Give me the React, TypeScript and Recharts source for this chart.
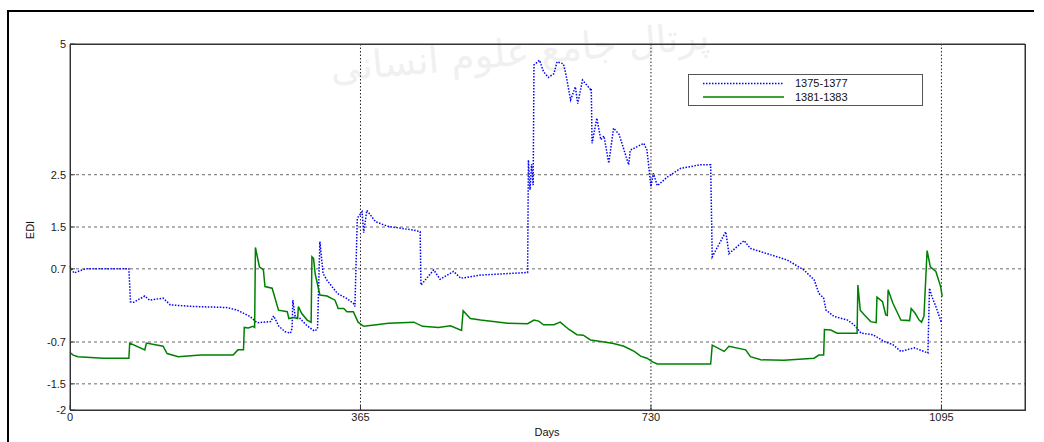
import React from 'react';
import { LineChart, Line, XAxis, YAxis, CartesianGrid } from 'recharts';

const xTicks = [0, 365, 730, 1095];
const yTicks = [-2, -1.5, -0.7, 0.7, 1.5, 2.5, 5];
const gridYTicks = [-1.5, -0.7, 0.7, 1.5, 2.5];
const seriesNames = ['1375-1377', '1381-1383'];

const blueDays = [0, 5, 12, 20, 74, 76, 80, 94, 100, 117, 126, 155, 197, 210, 226, 235, 252, 256, 262, 270, 277, 279, 280, 283, 289, 298, 307, 311, 314, 318, 323, 336, 348, 356, 358, 361, 367, 369, 373, 384, 400, 432, 440, 441, 457, 465, 482, 491, 516, 575, 576, 578, 580, 582, 583, 590, 595, 601, 608, 612, 620, 623, 629, 635, 638, 644, 654, 655, 656, 662, 667, 671, 677, 683, 690, 702, 704, 721, 725, 730, 733, 738, 751, 767, 792, 805, 807, 824, 828, 847, 855, 876, 901, 922, 935, 941, 947, 950, 960, 977, 985, 994, 1009, 1023, 1034, 1044, 1061, 1078, 1080, 1083, 1088, 1095];
const blueValues = [0.75, 0.62, 0.66, 0.7, 0.7, 0.07, 0.06, 0.18, 0.1, 0.14, 0.01, -0.02, -0.04, -0.09, -0.21, -0.33, -0.31, -0.2, -0.39, -0.5, -0.53, -0.44, 0.1, -0.21, -0.25, -0.39, -0.49, -0.45, 1.22, 0.61, 0.48, 0.23, 0.13, 0.04, -0.02, 1.67, 1.79, 1.39, 1.82, 1.6, 1.51, 1.44, 1.41, 0.39, 0.68, 0.5, 0.65, 0.52, 0.58, 0.63, 2.78, 2.21, 2.7, 2.3, 4.6, 4.69, 4.47, 4.36, 4.43, 4.66, 4.62, 4.43, 3.93, 4.18, 3.86, 4.31, 4.13, 4.15, 3.1, 3.58, 3.17, 3.24, 2.72, 3.39, 3.27, 2.69, 2.97, 3.1, 2.97, 2.27, 2.53, 2.29, 2.46, 2.62, 2.69, 2.69, 0.93, 1.41, 0.99, 1.24, 1.09, 0.99, 0.87, 0.68, 0.49, 0.23, 0.14, -0.09, -0.21, -0.28, -0.37, -0.53, -0.56, -0.69, -0.75, -0.88, -0.81, -0.91, 0.33, 0.17, -0.02, -0.33];

const greenDays = [0, 4, 10, 42, 74, 75, 94, 96, 117, 122, 136, 164, 205, 211, 218, 219, 224, 230, 232, 233, 238, 243, 245, 254, 262, 273, 275, 281, 286, 287, 291, 298, 303, 304, 306, 308, 314, 323, 333, 337, 344, 348, 356, 362, 369, 385, 400, 432, 443, 463, 478, 492, 494, 503, 516, 550, 575, 583, 589, 595, 608, 616, 627, 637, 645, 654, 667, 683, 696, 709, 717, 725, 732, 738, 805, 807, 822, 828, 849, 855, 868, 897, 935, 941, 947, 948, 956, 964, 989, 990, 993, 998, 1006, 1013, 1014, 1021, 1025, 1027, 1028, 1034, 1040, 1044, 1055, 1057, 1062, 1067, 1070, 1073, 1077, 1081, 1088, 1094, 1096];
const greenValues = [-0.9, -0.95, -0.98, -1.01, -1.01, -0.72, -0.85, -0.72, -0.78, -0.92, -0.98, -0.95, -0.95, -0.85, -0.85, -0.42, -0.43, -0.4, -0.42, 1.11, 0.74, 0.68, 0.36, 0.33, -0.09, -0.12, -0.25, -0.23, -0.25, -0.02, -0.15, -0.28, -0.32, 0.93, 0.9, 0.61, 0.2, 0.18, 0.1, -0.06, -0.06, -0.12, -0.12, -0.32, -0.4, -0.37, -0.34, -0.32, -0.4, -0.42, -0.39, -0.48, -0.1, -0.25, -0.28, -0.34, -0.35, -0.28, -0.3, -0.37, -0.37, -0.32, -0.46, -0.56, -0.57, -0.66, -0.69, -0.73, -0.78, -0.88, -0.97, -1.01, -1.08, -1.12, -1.12, -0.76, -0.88, -0.78, -0.85, -0.98, -1.04, -1.05, -1.01, -0.95, -0.95, -0.46, -0.47, -0.53, -0.53, 0.39, -0.09, -0.18, -0.31, -0.33, 0.16, 0.07, -0.18, -0.19, 0.3, 0.04, -0.15, -0.28, -0.29, -0.06, -0.15, -0.28, -0.32, -0.21, 1.05, 0.74, 0.65, 0.36, 0.17];

const blueData = blueDays.map((d, i) => ({ d, v: blueValues[i] }));
const greenData = greenDays.map((d, i) => ({ d, v: greenValues[i] }));

const FONT = '"Liberation Sans", Arial, sans-serif';
const tickStyle = { fontSize: 11, fill: '#1a1a1a', fontFamily: FONT };
const noTick = () => <g />;

export default function App() {
  return (
    <div style={{ position: 'absolute', left: 0, top: 0, width: 1044, height: 442, background: '#fff', overflow: 'hidden' }}>
      <div style={{ position: 'absolute', left: 8, top: 10, width: 1026, height: 2, background: '#000' }} />
      <div style={{ position: 'absolute', left: 7, top: 10, width: 2, height: 432, background: '#000' }} />
      <div dir="rtl" style={{ position: 'absolute', left: 330, top: 22, width: 380, height: 60, color: '#f0f0f0', fontFamily: '"DejaVu Sans", sans-serif', fontSize: 38, lineHeight: '60px', textAlign: 'center', transform: 'rotate(-5deg)', whiteSpace: 'nowrap' }}>پرتال جامع علوم انسانی</div>
      <div style={{ position: 'absolute', left: 0, top: 0 }}>
        <LineChart width={1044} height={442} margin={{ top: 43, right: 18, bottom: 0, left: 0 }}>
          <CartesianGrid xAxisId="b" yAxisId="l" vertical={false} horizontalValues={gridYTicks} stroke="#6a6a6a" strokeDasharray="3 3" />
          <CartesianGrid xAxisId="b" yAxisId="l" horizontal={false} verticalValues={[365, 730, 1095]} stroke="#222" strokeDasharray="1.5 2" />
          <XAxis xAxisId="b" dataKey="d" type="number" domain={[0, 1200]} ticks={xTicks} interval={0} height={32}
            axisLine={{ stroke: '#333' }} tickLine={{ stroke: '#333' }} tickSize={-5} tickMargin={8} tick={tickStyle} />
          <XAxis xAxisId="t" orientation="top" dataKey="d" type="number" domain={[0, 1200]} ticks={xTicks} interval={0} height={1}
            axisLine={{ stroke: '#333' }} tickLine={{ stroke: '#333' }} tickSize={-5} tick={noTick} />
          <YAxis yAxisId="l" type="number" domain={[-2, 5]} ticks={yTicks} interval={0} width={70}
            axisLine={{ stroke: '#444' }} tickLine={{ stroke: '#444' }} tickSize={-5} tickMargin={9} tick={tickStyle} />
          <YAxis yAxisId="r" orientation="right" type="number" domain={[-2, 5]} ticks={yTicks} interval={0} width={1}
            axisLine={{ stroke: '#333' }} tickLine={{ stroke: '#333' }} tickSize={-5} tick={noTick} />
          <Line xAxisId="b" yAxisId="l" data={blueData} dataKey="v" name={seriesNames[0]} type="linear" stroke="#0000ff"
            strokeWidth={1.5} strokeDasharray="1.5 1.5" dot={false} isAnimationActive={false} />
          <Line xAxisId="b" yAxisId="l" data={greenData} dataKey="v" name={seriesNames[1]} type="linear" stroke="#008000"
            strokeWidth={1.5} dot={false} isAnimationActive={false} />
        </LineChart>
      </div>
      <div style={{ position: 'absolute', left: 70, top: 44, width: 956, height: 367, border: '1px solid #333', boxSizing: 'border-box', pointerEvents: 'none' }} />
      <div style={{ position: 'absolute', left: 688, top: 74, width: 233, height: 30, border: '1px solid #555', background: '#fff', fontFamily: FONT, fontSize: 11, color: '#111' }}>
        <svg width={100} height={30} style={{ position: 'absolute', left: 0, top: 0 }}>
          <line x1={14} x2={95} y1={8.5} y2={8.5} stroke="#0000ff" strokeWidth={1.5} strokeDasharray="1.5 1.5" />
          <line x1={14} x2={95} y1={22} y2={22} stroke="#008000" strokeWidth={1.5} />
        </svg>
        <div style={{ position: 'absolute', left: 106, top: 1, lineHeight: '14px' }}>{seriesNames[0]}</div>
        <div style={{ position: 'absolute', left: 106, top: 15, lineHeight: '14px' }}>{seriesNames[1]}</div>
      </div>
      <div style={{ position: 'absolute', left: 30, top: 230, transform: 'translate(-50%, -50%) rotate(-90deg)', fontFamily: FONT, fontSize: 11, color: '#111' }}>EDI</div>
      <div style={{ position: 'absolute', left: 547, top: 432, transform: 'translate(-50%, -50%)', fontFamily: FONT, fontSize: 11, color: '#111' }}>Days</div>
    </div>
  );
}
